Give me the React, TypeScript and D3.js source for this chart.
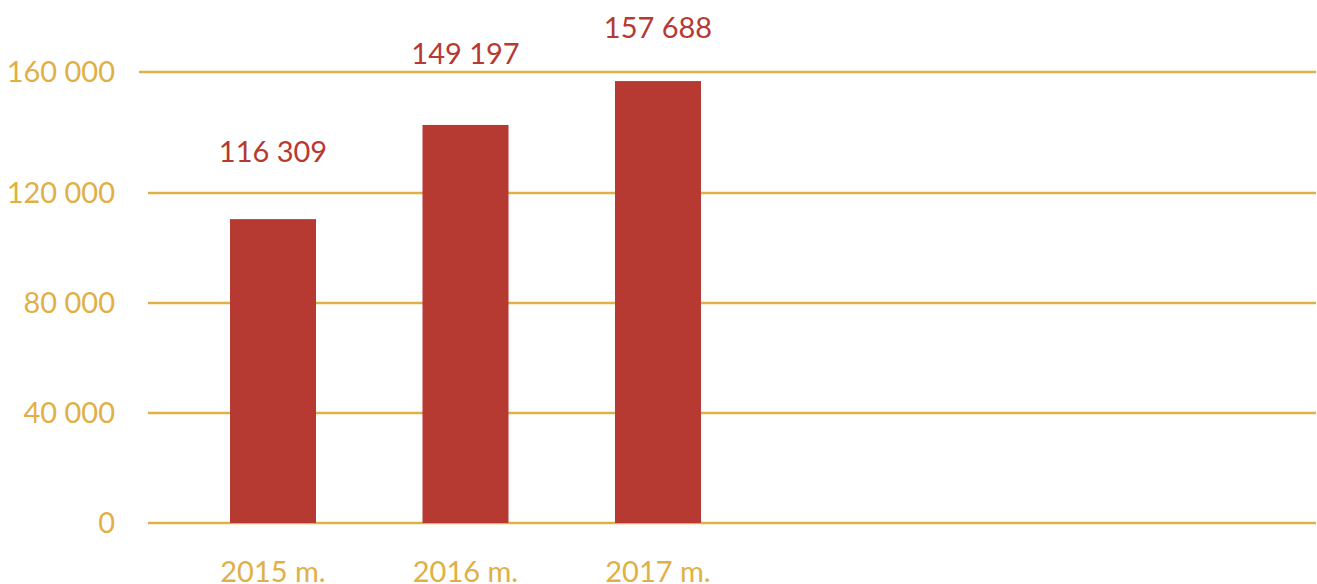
import React, { useEffect, useRef } from "react";
import * as d3 from "d3";

// categories and values
const categories = ["2015 m.", "2016 m.", "2017 m."];
const labelValues = [116309, 149197, 157688];
// bar heights as drawn in the picture (they differ a little from the labels)
const barValues = [110500, 142500, 157000];
const tickValues = [0, 40000, 80000, 120000, 160000];

const GOLD = "#DFB046";
const RED = "#B63932";

const App = () => {
  const svgRef = useRef<SVGSVGElement>(null);

  useEffect(() => {
    document.body.style.margin = "0";
    const svg = d3.select(svgRef.current);
    svg.selectAll("*").remove();

    const width = 1317;
    const height = 584;
    svg.attr("width", width).attr("height", height);

    // the source spaces the top gridline a bit wider than the others
    const yScale = d3
      .scaleLinear()
      .domain([0, 120000, 160000])
      .range([523, 193, 72]);

    const xScale = d3.scalePoint().domain(categories).range([273, 658]);
    const barWidth = 86;

    const fmt = (v: number) => d3.format(",")(v).replace(/,/g, " ");

    // gridlines
    svg
      .append("g")
      .selectAll("line")
      .data(tickValues)
      .join("line")
      .attr("x1", (d) => (d === 160000 ? 139 : 148))
      .attr("x2", 1316)
      .attr("y1", (d) => yScale(d))
      .attr("y2", (d) => yScale(d))
      .attr("stroke", GOLD)
      .attr("stroke-width", 2.5);

    // y tick labels
    svg
      .append("g")
      .selectAll("text")
      .data(tickValues)
      .join("text")
      .attr("x", 115)
      .attr("y", (d) => yScale(d))
      .attr("dy", "0.36em")
      .attr("text-anchor", "end")
      .attr("fill", GOLD)
      .style("font-family", "Lato, sans-serif")
      .style("font-size", "29px")
      .text((d) => fmt(d));

    // bars
    svg
      .append("g")
      .selectAll("rect")
      .data(categories)
      .join("rect")
      .attr("x", (d) => xScale(d)! - barWidth / 2)
      .attr("y", (d, i) => yScale(barValues[i]))
      .attr("width", barWidth)
      .attr("height", (d, i) => yScale(0) - yScale(barValues[i]))
      .attr("fill", RED);

    // value labels
    svg
      .append("g")
      .selectAll("text")
      .data(categories)
      .join("text")
      .attr("x", (d) => xScale(d)!)
      .attr("y", (d, i) => yScale(labelValues[i]) - 41)
      .attr("text-anchor", "middle")
      .attr("fill", RED)
      .style("font-family", "Lato, sans-serif")
      .style("font-size", "29px")
      .text((d, i) => fmt(labelValues[i]));

    // category labels
    svg
      .append("g")
      .selectAll("text")
      .data(categories)
      .join("text")
      .attr("x", (d) => xScale(d)!)
      .attr("y", 582)
      .attr("text-anchor", "middle")
      .attr("fill", GOLD)
      .style("font-family", "Lato, sans-serif")
      .style("font-size", "29px")
      .text((d) => d);
  }, []);

  return (
    <div style={{ width: "100%" }}>
      <svg ref={svgRef} style={{ display: "block" }}></svg>
    </div>
  );
};

export default App;
